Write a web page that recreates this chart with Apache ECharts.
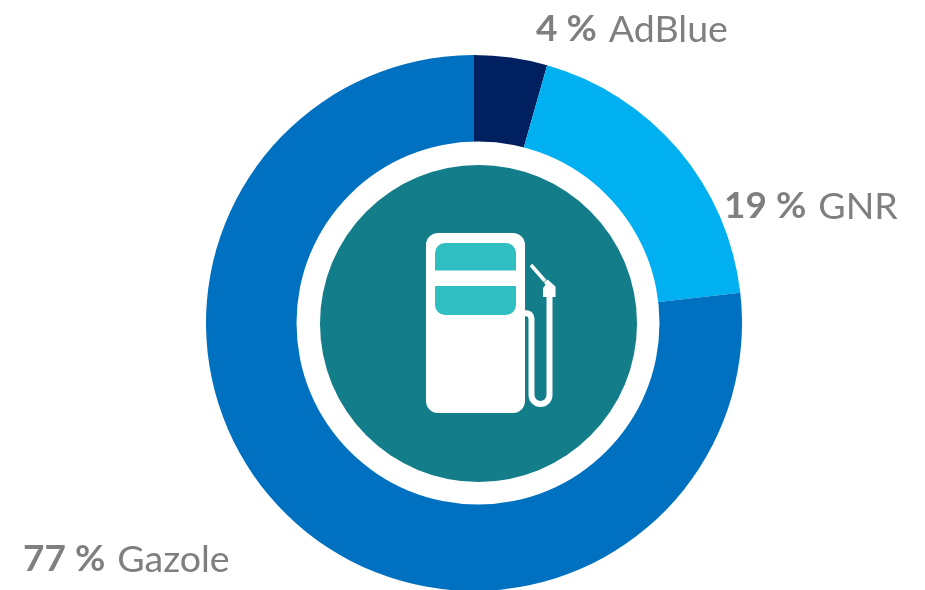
<!DOCTYPE html>
<html>
<head>
<meta charset="utf-8">
<style>
  html, body { margin: 0; padding: 0; background: #fff; }
  #chart { width: 925px; height: 590px; }
</style>
</head>
<body>
<div id="chart"></div>
<script src="https://cdn.jsdelivr.net/npm/echarts@6/dist/echarts.min.js"></script>
<script>
const categories = ['AdBlue', 'GNR', 'Gazole']
const shares = [4.4, 18.8, 76.8]
const percentLabels = ['4 %', '19 %', '77 %']
const colors = ['#002060', '#00B0F0', '#0070C0']
const labelAnchors = [[536, 29.5], [724, 206.5], [23, 559.5]]

const chart = echarts.init(document.getElementById('chart'))

// pump icon in the middle of the ring
const white = '#fff'
const lightTeal = '#2FBEC2'
const hoseStyle = { fill: 'none', stroke: white, lineWidth: 6 }
const centerGraphics = [
  { type: 'circle', z: 10, shape: { cx: 478, cy: 323, r: 181.5 }, style: { fill: white } },
  { type: 'circle', z: 11, shape: { cx: 478.5, cy: 323.5, r: 158.5 }, style: { fill: '#137D8A' } },
  { type: 'rect', z: 12, shape: { x: 426, y: 233, width: 99, height: 180, r: 12 }, style: { fill: white } },
  { type: 'rect', z: 13, shape: { x: 435, y: 243, width: 81, height: 27.5, r: [10, 10, 0, 0] }, style: { fill: lightTeal } },
  { type: 'rect', z: 13, shape: { x: 435, y: 286, width: 81, height: 29, r: [0, 0, 10, 10] }, style: { fill: lightTeal } },
  {
    type: 'bezierCurve', z: 12,
    shape: { x1: 524, y1: 313.5, cpx1: 531.5, cpy1: 312, x2: 531.5, y2: 320 },
    style: hoseStyle
  },
  { type: 'line', z: 12, shape: { x1: 531.5, y1: 320, x2: 531.5, y2: 395 }, style: hoseStyle },
  {
    type: 'arc', z: 12,
    shape: { cx: 540.5, cy: 395, r: 9, startAngle: 0, endAngle: Math.PI, clockwise: true },
    style: hoseStyle
  },
  { type: 'line', z: 12, shape: { x1: 549.5, y1: 395, x2: 549.5, y2: 292 }, style: hoseStyle },
  {
    type: 'line', z: 12,
    shape: { x1: 531, y1: 265, x2: 545, y2: 281 },
    style: { stroke: white, lineWidth: 3.5 }
  },
  {
    type: 'polygon', z: 12,
    shape: { points: [[543, 288], [545.5, 285], [544, 282.5], [547.5, 279.5], [555.5, 286.5], [555.5, 297], [543, 297]] },
    style: { fill: white }
  }
]

chart.setOption({
  backgroundColor: '#fff',
  animation: false,
  graphic: { elements: centerGraphics },
  series: [
    {
      type: 'pie',
      center: [474, 323],
      radius: [175, 268],
      startAngle: 90,
      clockwise: true,
      silent: true,
      data: categories.map((name, i) => ({
        name,
        value: shares[i],
        itemStyle: { color: colors[i] }
      })),
      label: {
        show: true,
        position: 'outside',
        formatter: (p) => `{pct|${percentLabels[p.dataIndex]}}{name|${p.name}}`,
        rich: {
          pct: { fontFamily: 'Lato', fontSize: 37, fontWeight: 'bold', color: '#7F7F7F' },
          name: { fontFamily: 'Lato', fontSize: 37.5, color: '#7F7F7F', padding: [0, 0, 0, 12] }
        }
      },
      labelLine: { show: false },
      labelLayout: (p) => ({
        x: labelAnchors[p.dataIndex][0],
        y: labelAnchors[p.dataIndex][1],
        align: 'left',
        verticalAlign: 'middle',
        hideOverlap: false
      })
    }
  ]
})

window.addEventListener('resize', () => chart.resize())
</script>
</body>
</html>
